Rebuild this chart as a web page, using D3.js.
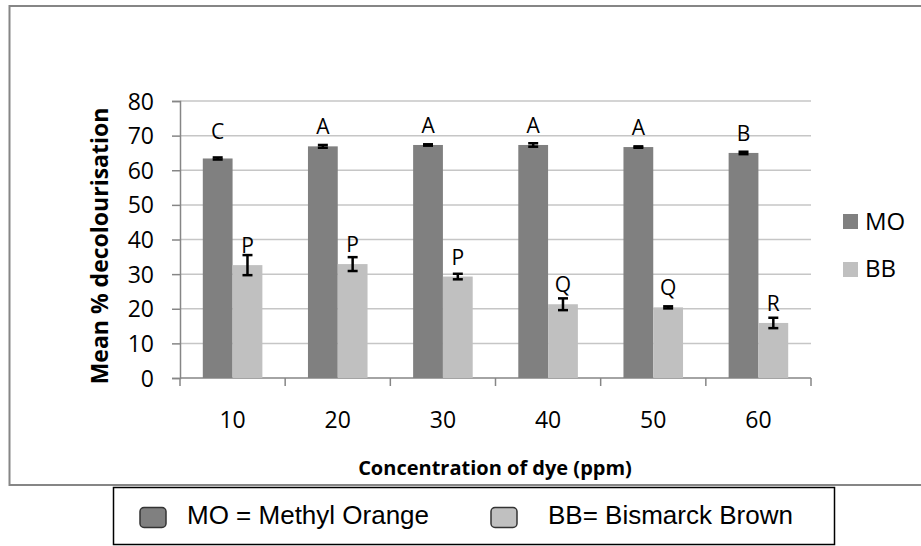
<!DOCTYPE html>
<html><head><meta charset="utf-8">
<script src="https://cdn.jsdelivr.net/npm/d3@7"></script>
<style>body{margin:0;background:#fff}svg{display:block}</style>
</head><body>
<svg id="c" width="921" height="546"></svg>
<script>
const categories = ["10","20","30","40","50","60"];
const series = ["MO","BB"];
const moValues = [63.4, 66.9, 67.3, 67.3, 66.7, 65.0];
const bbValues = [32.6, 32.9, 29.3, 21.3, 20.4, 15.9];
const moErrors = [0.3, 0.4, 0.2, 0.5, 0.2, 0.35];
const bbErrors = [2.9, 2.0, 0.8, 1.7, 0.3, 1.5];
const moLetters = ["C","A","A","A","A","B"];
const bbLetters = ["P","P","P","Q","Q","R"];
const yTicks = [0,10,20,30,40,50,60,70,80];
const legendTexts = ["MO = Methyl Orange","BB= Bismarck Brown"];

const colors = {MO:"#808080", BB:"#c0c0c0"};
const FONT = "Open Sans";
const svg = d3.select("#c");

// outer frame
svg.append("rect").attr("x",9.5).attr("y",6).attr("width",930).attr("height",479)
  .attr("fill","none").attr("stroke","#868686").attr("stroke-width",2);

const x0 = d3.scaleBand().domain(categories).range([180,811]);
const x1 = d3.scaleBand().domain(series).range([0,x0.bandwidth()]).paddingOuter(0.765);
const y = d3.scaleLinear().domain([0,80]).range([378,101]);

// gridlines
svg.append("g").selectAll("line").data(yTicks.filter(d=>d>0)).join("line")
  .attr("x1",180).attr("x2",811).attr("y1",d=>y(d)).attr("y2",d=>y(d))
  .attr("stroke","#c6c6c6").attr("stroke-width",1.5);

// y axis
const yAxis = svg.append("g").attr("transform","translate(180,0)")
  .call(d3.axisLeft(y).tickValues(yTicks).tickSize(8).tickPadding(18));
yAxis.select(".domain").attr("stroke","#868686").attr("stroke-width",1.5);
yAxis.selectAll(".tick line").attr("stroke","#868686").attr("stroke-width",1.5);
yAxis.selectAll("text").attr("font-family",FONT).attr("font-size",23).attr("fill","#000").attr("dy","0.35em");

// x axis (ticks at band boundaries)
const boundaries = categories.map(c=>x0(c)).concat([x0.range()[1]]);
svg.append("line").attr("x1",180).attr("x2",811).attr("y1",y(0)).attr("y2",y(0))
  .attr("stroke","#868686").attr("stroke-width",1.5);
svg.append("g").selectAll("line").data(boundaries).join("line")
  .attr("x1",d=>d).attr("x2",d=>d).attr("y1",y(0)).attr("y2",y(0)+8)
  .attr("stroke","#868686").attr("stroke-width",1.5);
svg.append("g").selectAll("text").data(categories).join("text")
  .attr("x",d=>x0(d)+x0.bandwidth()/2).attr("y",428)
  .attr("text-anchor","middle").attr("font-family",FONT).attr("font-size",23)
  .text(d=>d);

// bars
const data = categories.map((c,i)=>({c, MO:moValues[i], BB:bbValues[i], eMO:moErrors[i], eBB:bbErrors[i], lMO:moLetters[i], lBB:bbLetters[i]}));
const flat = [];
data.forEach(d=>series.forEach(s=>flat.push({c:d.c, s, v:d[s], e:d["e"+s], l:d["l"+s]})));

svg.append("g").selectAll("rect").data(flat).join("rect")
  .attr("x",d=>x0(d.c)+x1(d.s)).attr("width",x1.bandwidth())
  .attr("y",d=>y(d.v)).attr("height",d=>y(0)-y(d.v))
  .attr("fill",d=>colors[d.s]);

// error bars
const eg = svg.append("g").attr("stroke","#000").attr("stroke-width",2.5);
flat.forEach(d=>{
  const cx = x0(d.c)+x1(d.s)+x1.bandwidth()/2;
  const t = y(d.v+d.e), b = y(d.v-d.e);
  eg.append("line").attr("x1",cx).attr("x2",cx).attr("y1",t).attr("y2",b);
  eg.append("line").attr("x1",cx-5).attr("x2",cx+5).attr("y1",t).attr("y2",t);
  eg.append("line").attr("x1",cx-5).attr("x2",cx+5).attr("y1",b).attr("y2",b);
});

// letters
svg.append("g").selectAll("text").data(flat).join("text")
  .attr("x",d=>x0(d.c)+x1(d.s)+x1.bandwidth()/2)
  .attr("y",d=>y(d.v)-12 - (d.l==="C"?7:0))
  .attr("text-anchor","middle").attr("font-family",FONT).attr("font-size",21)
  .text(d=>d.l);

// axis titles
svg.append("text").attr("transform","translate(108,246) rotate(-90)")
  .attr("text-anchor","middle").attr("font-family",FONT).attr("font-weight","bold")
  .attr("font-size",23).text("Mean % decolourisation");
svg.append("text").attr("x",495).attr("y",475)
  .attr("text-anchor","middle").attr("font-family",FONT).attr("font-weight","bold")
  .attr("font-size",20).text("Concentration of dye (ppm)");

// right legend
const lg = svg.append("g");
series.forEach((s,i)=>{
  lg.append("rect").attr("x",843).attr("y",214+i*48).attr("width",15).attr("height",15).attr("fill",colors[s]);
  lg.append("text").attr("x",865).attr("y",230+i*47).attr("font-family",FONT).attr("font-size",24).text(s);
});

// bottom legend box
svg.append("rect").attr("x",113.5).attr("y",487.5).attr("width",721).attr("height",57)
  .attr("fill","#fff").attr("stroke","#000").attr("stroke-width",1.5);
const sw = [140, 491], tx = [187, 548];
series.forEach((s,i)=>{
  svg.append("rect").attr("x",sw[i]).attr("y",507.5).attr("width",26).attr("height",20).attr("rx",4)
    .attr("fill",colors[s]).attr("stroke","#333").attr("stroke-width",1.5);
  svg.append("text").attr("x",tx[i]).attr("y",523.5).attr("font-family","Liberation Sans")
    .attr("font-size",26).text(legendTexts[i]);
});
</script>
</body></html>
